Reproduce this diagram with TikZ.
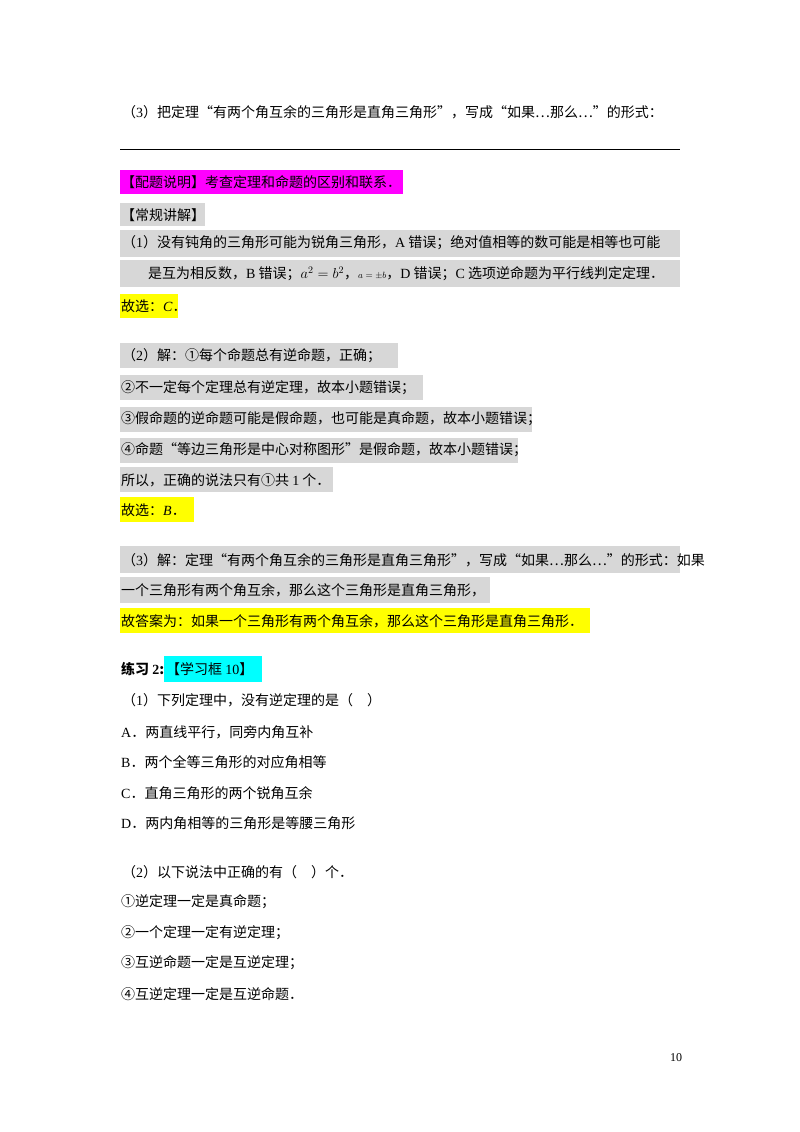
\documentclass[tikz,border=0pt]{standalone}
\usepackage{fontspec}
\setmainfont{Noto Sans CJK SC}
\newfontfamily\lat{Liberation Serif}
\definecolor{hgray}{RGB}{215,215,215}
\definecolor{hmag}{RGB}{255,0,255}
\definecolor{hyel}{RGB}{255,255,0}
\definecolor{hcyan}{RGB}{0,255,255}
\begin{document}
\begin{tikzpicture}[x=1pt,y=-1pt,
  t/.style={anchor=west,inner sep=0pt,font=\fontsize{14pt}{16pt}\selectfont},
  hl/.style={fill=#1,draw=none}]
\useasboundingbox[fill=white] (0,0) rectangle (800,1132);
% highlights
\fill[hmag] (120,170) rectangle (403,194);
\fill[hgray] (120,203) rectangle (205,226);
\fill[hgray] (120,230) rectangle (680,257);
\fill[hgray] (120,260) rectangle (680,287);
\fill[hyel] (120,294) rectangle (178,318);
\fill[hgray] (120,343) rectangle (398,368);
\fill[hgray] (120,375) rectangle (423,400);
\fill[hgray] (120,407) rectangle (532,432);
\fill[hgray] (120,438) rectangle (518,463);
\fill[hgray] (120,467) rectangle (333,492);
\fill[hyel] (120,497) rectangle (194,522);
\fill[hgray] (120,546) rectangle (680,573);
\fill[hgray] (120,577) rectangle (490,603);
\fill[hyel] (120,608) rectangle (590,633);
\fill[hcyan] (164,656) rectangle (262,682);
% top
\node[t] (q3) at (122,112) {（{\lat 3}）把定理“有两个角互余的三角形是直角三角形”，写成“如果…那么…”的形式：};
\coordinate (r1) at (120,149); \coordinate (r2) at (680,149);
\draw[line width=0.8pt] (r1) -- (r2);
\node[t] (p1) at (121,182) {【配题说明】考查定理和命题的区别和联系．};
\node[t] (p2) at (121,215) {【常规讲解】};
\node[t] (p3) at (122,243) {（{\lat 1}）没有钝角的三角形可能为锐角三角形，{\lat A} 错误；绝对值相等的数可能是相等也可能};
\node[t] (p4) at (148,274) {是互为相反数，{\lat B} 错误；{\lat$a^2=b^2$}，{\lat\small$a=\pm b$}，{\lat D} 错误；{\lat C} 选项逆命题为平行线判定定理．};
\node[t] (p5) at (121,306) {故选：{\lat\itshape C}．};
\node[t] (p6) at (122,356) {（{\lat 2}）解：①每个命题总有逆命题，正确；};
\node[t] (p7) at (121,388) {②不一定每个定理总有逆定理，故本小题错误；};
\node[t] (p8) at (121,419) {③假命题的逆命题可能是假命题，也可能是真命题，故本小题错误；};
\node[t] (p9) at (121,450) {④命题“等边三角形是中心对称图形”是假命题，故本小题错误；};
\node[t] (p10) at (121,480) {所以，正确的说法只有①共 {\lat 1} 个．};
\node[t] (p11) at (121,510) {故选：{\lat\itshape B}．};
\node[t] (p12) at (122,560) {（{\lat 3}）解：定理“有两个角互余的三角形是直角三角形”，写成“如果…那么…”的形式：如果};
\node[t] (p13) at (121,590) {一个三角形有两个角互余，那么这个三角形是直角三角形，};
\node[t] (p14) at (121,621) {故答案为：如果一个三角形有两个角互余，那么这个三角形是直角三角形．};
\node[t,font=\fontsize{14pt}{16pt}\selectfont\bfseries] (p15) at (121,669) {练习 {\lat\bfseries 2}:};
\node[t] (p16) at (166,669) {【学习框 {\lat 10}】};
\node[t] (p17) at (122,700) {（{\lat 1}）下列定理中，没有逆定理的是（\quad）};
\node[t] (p18) at (121,732) {{\lat A}．两直线平行，同旁内角互补};
\node[t] (p19) at (121,762) {{\lat B}．两个全等三角形的对应角相等};
\node[t] (p20) at (121,793) {{\lat C}．直角三角形的两个锐角互余};
\node[t] (p21) at (121,823) {{\lat D}．两内角相等的三角形是等腰三角形};
\node[t] (p22) at (122,872) {（{\lat 2}）以下说法中正确的有（\quad）个．};
\node[t] (p23) at (121,902) {①逆定理一定是真命题；};
\node[t] (p24) at (121,933) {②一个定理一定有逆定理；};
\node[t] (p25) at (121,963) {③互逆命题一定是互逆定理；};
\node[t] (p26) at (121,994) {④互逆定理一定是互逆命题．};
\node[t,font=\lat\fontsize{12pt}{14pt}\selectfont] (pg) at (670,1058) {10};
\end{tikzpicture}
\end{document}
